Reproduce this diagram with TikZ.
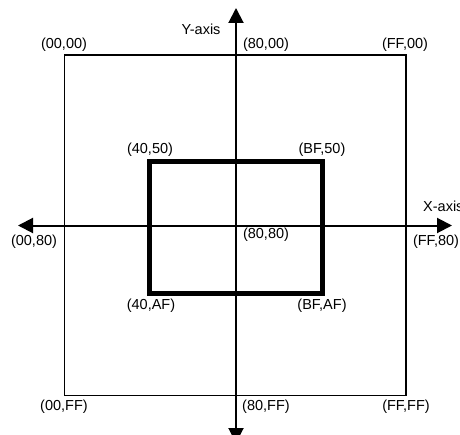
\documentclass[tikz,border=0pt]{standalone}
\usepackage{fontspec}
\setmainfont{Liberation Sans}
\usetikzlibrary{arrows.meta}
\begin{document}
\begin{tikzpicture}[x=1bp,y=-1bp,
  lbl/.style={inner sep=0pt, font=\fontsize{14.5bp}{16bp}\selectfont},
  outerbox/.style={line width=1.5bp},
  innerbox/.style={line width=5bp, line join=miter},
  axisline/.style={line width=2bp, -{Triangle[width=15bp,length=15bp]}}]
\useasboundingbox (0,0) rectangle (460,435);
\clip (0,0) rectangle (460,435);
\fill[white] (0,0) rectangle (460,435);
% coordinates
\coordinate (o1) at (64.5,55);
\coordinate (o2) at (406,395.5);
\coordinate (i1) at (149,162);
\coordinate (i2) at (322,293);
\coordinate (c) at (236,225.5);
\coordinate (ytop) at (236,8);
\coordinate (ybot) at (236,443);
\coordinate (xleft) at (18,225.5);
\coordinate (xright) at (452,225.5);
% boxes
\draw[outerbox] (o1) rectangle (o2);
\draw[innerbox] (i1) rectangle (i2);
% axes
\draw[axisline] (c) -- (ytop);
\draw[axisline] (c) -- (ybot);
\draw[axisline] (c) -- (xleft);
\draw[axisline] (c) -- (xright);
% labels
\node[lbl] (l0000) at (64,45) {(00,00)};
\node[lbl] (l8000) at (266,45) {(80,00)};
\node[lbl] (lFF00) at (405,45) {(FF,00)};
\node[lbl] (ly) at (201,29) {Y-axis};
\node[lbl] (l4050) at (150,150) {(40,50)};
\node[lbl] (lBF50) at (322,150) {(BF,50)};
\node[lbl, anchor=west] (lx) at (423,206) {X-axis};
\node[lbl] (l0080) at (34,242) {(00,80)};
\node[lbl] (l8080) at (266,235) {(80,80)};
\node[lbl] (lFF80) at (436,242) {(FF,80)};
\node[lbl] (l40AF) at (151,306) {(40,AF)};
\node[lbl] (lBFAF) at (322,306) {(BF,AF)};
\node[lbl] (l00FF) at (64,407) {(00,FF)};
\node[lbl] (l80FF) at (266,407) {(80,FF)};
\node[lbl] (lFFFF) at (406,407) {(FF,FF)};
\end{tikzpicture}
\end{document}
